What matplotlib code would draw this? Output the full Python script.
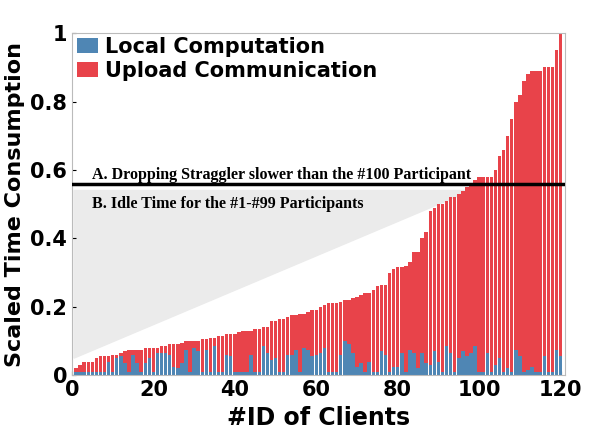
import numpy as np
import matplotlib.pyplot as plt

total = [0.02, 0.03, 0.04, 0.04, 0.04, 0.05, 0.055, 0.055, 0.055, 0.06,
         0.06, 0.065, 0.07, 0.075, 0.075, 0.075, 0.075, 0.08, 0.08, 0.08,
         0.08, 0.085, 0.085, 0.09, 0.09, 0.09, 0.095, 0.10, 0.10, 0.10,
         0.10, 0.105, 0.105, 0.11, 0.11, 0.115, 0.115, 0.12, 0.12, 0.12,
         0.125, 0.13, 0.13, 0.13, 0.135, 0.135, 0.14, 0.14, 0.16, 0.16,
         0.165, 0.165, 0.17, 0.175, 0.175, 0.18, 0.18, 0.185, 0.19, 0.19,
         0.20, 0.205, 0.21, 0.21, 0.21, 0.215, 0.22, 0.22, 0.225, 0.23,
         0.235, 0.24, 0.24, 0.25, 0.26, 0.265, 0.265, 0.30, 0.31, 0.315,
         0.315, 0.32, 0.33, 0.36, 0.36, 0.40, 0.42, 0.48, 0.49, 0.50,
         0.50, 0.51, 0.52, 0.52, 0.53, 0.54, 0.55, 0.56, 0.57, 0.58,
         0.58, 0.58, 0.58, 0.60, 0.64, 0.66, 0.70, 0.75, 0.80, 0.82,
         0.86, 0.88, 0.89, 0.89, 0.89, 0.90, 0.90, 0.90, 0.95, 1.00]
local = [0.01, 0.01, 0.01, 0.01, 0.01, 0.01, 0.01, 0.01, 0.04, 0.01,
         0.05, 0.055, 0.035, 0.01, 0.06, 0.035, 0.01, 0.035, 0.05, 0.01,
         0.065, 0.065, 0.065, 0.06, 0.025, 0.02, 0.035, 0.075, 0.01, 0.08,
         0.07, 0.01, 0.075, 0.01, 0.085, 0.01, 0.01, 0.06, 0.055, 0.01,
         0.01, 0.01, 0.01, 0.06, 0.01, 0.01, 0.085, 0.065, 0.045, 0.05,
         0.01, 0.01, 0.06, 0.06, 0.075, 0.01, 0.08, 0.075, 0.055, 0.06,
         0.065, 0.08, 0.01, 0.01, 0.01, 0.06, 0.10, 0.09, 0.065, 0.025,
         0.035, 0.01, 0.04, 0.01, 0.01, 0.07, 0.06, 0.01, 0.025, 0.025,
         0.065, 0.01, 0.075, 0.065, 0.02, 0.065, 0.035, 0.03, 0.07, 0.04,
         0.01, 0.085, 0.065, 0.01, 0.05, 0.07, 0.055, 0.065, 0.085, 0.01,
         0.01, 0.065, 0.01, 0.03, 0.05, 0.01, 0.02, 0.01, 0.075, 0.055,
         0.01, 0.015, 0.025, 0.01, 0.01, 0.055, 0.01, 0.01, 0.075, 0.055]
clients = np.arange(1, len(total) + 1)
upload = np.array(total) - np.array(local)

fig = plt.figure(figsize=(5.9, 4.43), dpi=100)
ax = fig.add_axes([0.122, 0.153, 0.835, 0.772])

ax.fill([0.5, 98, 0.5], [0.54, 0.54, 0.05], color='#ebebeb', zorder=0)
ax.bar(clients, local, width=0.85, color='#4f86b4', label='Local Computation', zorder=2)
ax.bar(clients, upload, bottom=local, width=0.85, color='#e8434a', label='Upload Communication', zorder=2)
ax.axhline(0.56, color='black', lw=2.5, zorder=3)

ax.text(5, 0.575, 'A. Dropping Straggler slower than the #100 Participant',
        family='Liberation Serif', fontweight='bold', fontsize=11.5)
ax.text(5, 0.49, 'B. Idle Time for the #1-#99 Participants',
        family='Liberation Serif', fontweight='bold', fontsize=11.5)

ax.set_xlim(0, 121)
ax.set_ylim(0, 1)
ax.set_xticks(range(0, 121, 20))
ax.set_yticks([0, 0.2, 0.4, 0.6, 0.8, 1])
ax.set_yticklabels(['0', '0.2', '0.4', '0.6', '0.8', '1'])
ax.tick_params(labelsize=15, direction='in', length=3)
for lab in ax.get_xticklabels() + ax.get_yticklabels():
    lab.set_fontweight('bold')
ax.set_xlabel('#ID of Clients', fontsize=17, fontweight='bold')
ax.set_ylabel('Scaled Time Consumption', fontsize=16, fontweight='bold')
for s in ax.spines.values():
    s.set_color('#bbbbbb')

leg = ax.legend(loc='upper left', bbox_to_anchor=(-0.01, 1.02), frameon=False,
                prop={'weight': 'bold', 'size': 15}, handlelength=1.0,
                handletextpad=0.3, borderaxespad=0.1, labelspacing=0.2)

fig.savefig('out.png', dpi=100)
